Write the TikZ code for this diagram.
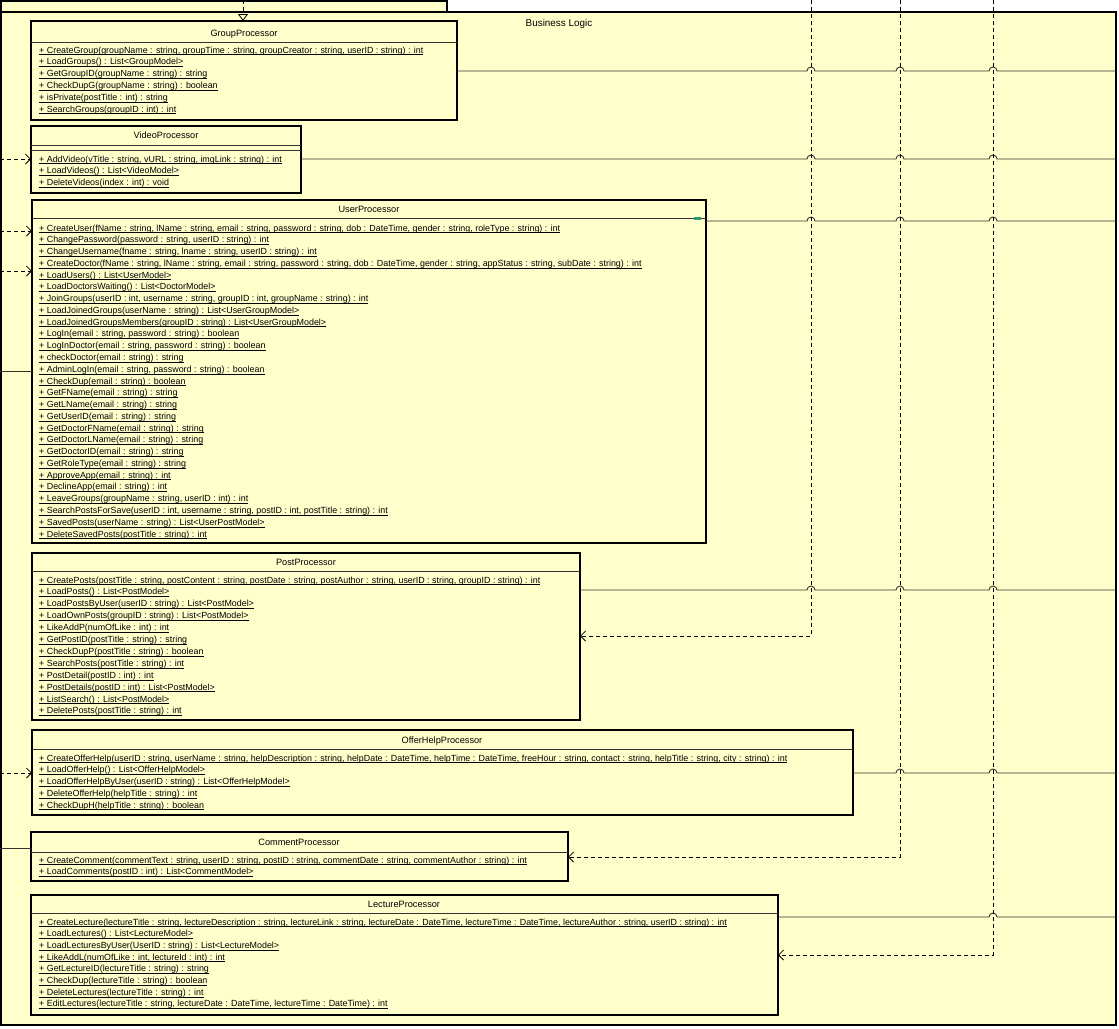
\documentclass[tikz,border=0pt]{standalone}
\usepackage{fontspec}
\setmainfont{Liberation Sans}
\usetikzlibrary{arrows.meta}
\definecolor{pkgfill}{HTML}{FFFFCC}
\definecolor{lnc}{HTML}{333333}
\definecolor{markc}{HTML}{2E9A6A}
\newcommand\myul[1]{\setbox0\hbox{#1}\rlap{\rule[-2pt]{\wd0}{0.7pt}}\box0}
\tikzset{
  pkg/.style={draw=black, line width=1.6pt, fill=pkgfill},
  cls/.style={draw=black, line width=2pt, fill=pkgfill, anchor=north west, inner sep=0pt, outer sep=0pt},
  ttl/.style={font=\fontsize{9.2}{10}\selectfont, inner sep=0pt, anchor=base},
  meth/.style={font=\fontsize{8.9}{10}\selectfont, inner sep=0pt, anchor=base west},
  sepline/.style={draw=lnc, line width=0.8pt},
  assoc/.style={draw=lnc, line width=0.9pt},
  dep/.style={draw=black, line width=0.8pt, dash pattern=on 4pt off 3pt, -{Straight Barb[length=5pt,width=10pt]}},
  realz/.style={draw=black, line width=0.8pt, dash pattern=on 4pt off 3pt, -{Triangle[open,length=7pt,width=10pt]}}
}
\begin{document}
\begin{tikzpicture}[x=1pt,y=1pt]
\useasboundingbox (0,0) rectangle (1119,-1028);
% package
\draw[pkg] (1,-1) rectangle (447,-12);
\draw[pkg] (1,-12) rectangle (1116,-1025);
\node[ttl, font=\fontsize{9.9}{11}\selectfont] (pkglabel) at (559,-26) {Business Logic};

% coordinates
\coordinate (tR) at (243,0);
\coordinate (tA) at (811,0);
\coordinate (tB) at (900,0);
\coordinate (tC) at (993,0);
\coordinate (eGrp) at (1116,-71);
\coordinate (eVid) at (1116,-159);
\coordinate (eUsr) at (1116,-221);
\coordinate (ePst) at (1116,-590);
\coordinate (eOfh) at (1116,-773);
\coordinate (eLec) at (1116,-917);
\coordinate (lVid) at (0,-159);
\coordinate (lUsr1) at (0,-231);
\coordinate (lUsr2) at (0,-271);
\coordinate (lUsr3) at (0,-371);
\coordinate (lOfh) at (0,-773);
\coordinate (lCmt) at (0,-848);
\coordinate (kA) at (811,-636);
\coordinate (kB) at (900,-857);
\coordinate (kC) at (993,-955);

% class boxes
\node[cls, minimum width=426pt, minimum height=99pt] (grp) at (31,-21) {};
\node[cls, minimum width=270pt, minimum height=67pt] (vid) at (31,-126) {};
\node[cls, minimum width=674pt, minimum height=343pt] (usr) at (32,-200) {};
\node[cls, minimum width=548pt, minimum height=167pt] (pst) at (32,-553) {};
\node[cls, minimum width=821pt, minimum height=85pt] (ofh) at (32,-730) {};
\node[cls, minimum width=537pt, minimum height=49pt] (cmt) at (31,-832) {};
\node[cls, minimum width=747pt, minimum height=120pt] (lec) at (31,-895) {};

% separators
\draw[sepline] (31,-42) -- (457,-42);
\draw[sepline] (31,-145) -- (301,-145);
\draw[sepline] (31,-150) -- (301,-150);
\draw[sepline] (32,-218) -- (706,-218);
\draw[sepline] (32,-571) -- (580,-571);
\draw[sepline] (32,-749) -- (853,-749);
\draw[sepline] (31,-852) -- (568,-852);
\draw[sepline] (31,-913) -- (778,-913);
\fill[markc] (694,-216.5) rectangle (701,-219.5);

% right-side associations with jumps
\draw[assoc] (grp.east |- eGrp) -- (807,-71) arc[start angle=180,end angle=0,radius=4pt]
  -- (896,-71) arc[start angle=180,end angle=0,radius=4pt]
  -- (989,-71) arc[start angle=180,end angle=0,radius=4pt] -- (eGrp);
\draw[assoc] (vid.east |- eVid) -- (807,-159) arc[start angle=180,end angle=0,radius=4pt]
  -- (896,-159) arc[start angle=180,end angle=0,radius=4pt]
  -- (989,-159) arc[start angle=180,end angle=0,radius=4pt] -- (eVid);
\draw[assoc] (usr.east |- eUsr) -- (807,-221) arc[start angle=180,end angle=0,radius=4pt]
  -- (896,-221) arc[start angle=180,end angle=0,radius=4pt]
  -- (989,-221) arc[start angle=180,end angle=0,radius=4pt] -- (eUsr);
\draw[assoc] (pst.east |- ePst) -- (807,-590) arc[start angle=180,end angle=0,radius=4pt]
  -- (896,-590) arc[start angle=180,end angle=0,radius=4pt]
  -- (989,-590) arc[start angle=180,end angle=0,radius=4pt] -- (ePst);
\draw[assoc] (ofh.east |- eOfh) -- (896,-773) arc[start angle=180,end angle=0,radius=4pt]
  -- (989,-773) arc[start angle=180,end angle=0,radius=4pt] -- (eOfh);
\draw[assoc] (lec.east |- eLec) -- (989,-917) arc[start angle=180,end angle=0,radius=4pt] -- (eLec);

% left-side connectors
\draw[dep] (lVid) -- (vid.west |- lVid);
\draw[dep] (lUsr1) -- (usr.west |- lUsr1);
\draw[dep] (lUsr2) -- (usr.west |- lUsr2);
\draw[assoc] (lUsr3) -- (usr.west |- lUsr3);
\draw[dep] (lOfh) -- (ofh.west |- lOfh);
\draw[assoc] (lCmt) -- (cmt.west |- lCmt);

% top realization and vertical dependencies
\draw[realz] (tR) -- (grp.north -| tR);
\draw[dep] (tA) -- (kA) -- (pst.east |- kA);
\draw[dep] (tB) -- (kB) -- (cmt.east |- kB);
\draw[dep] (tC) -- (kC) -- (lec.east |- kC);

% titles
\node[ttl] (grp-t) at (244,-36) {GroupProcessor};
\node[ttl] (vid-t) at (166,-138) {VideoProcessor};
\node[ttl] (usr-t) at (369,-212) {UserProcessor};
\node[ttl] (pst-t) at (306,-565) {PostProcessor};
\node[ttl] (ofh-t) at (442,-743) {OfferHelpProcessor};
\node[ttl] (cmt-t) at (299,-845) {CommentProcessor};
\node[ttl] (lec-t) at (404,-907) {LectureProcessor};

% methods
\foreach \t [count=\i from 0] in {
{+ CreateGroup(groupName : string, groupTime : string, groupCreator : string, userID : string) : int},
{+ LoadGroups() : List<GroupModel>},
{+ GetGroupID(groupName : string) : string},
{+ CheckDupG(groupName : string) : boolean},
{+ isPrivate(postTitle : int) : string},
{+ SearchGroups(groupID : int) : int}}
  \node[meth] (grp-m\i) at (39,{-(53+11.8*\i)}) {\myul{\t}};

\foreach \t [count=\i from 0] in {
{+ AddVideo(vTitle : string, vURL : string, imgLink : string) : int},
{+ LoadVideos() : List<VideoModel>},
{+ DeleteVideos(index : int) : void}}
  \node[meth] (vid-m\i) at (39,{-(162+11.8*\i)}) {\myul{\t}};

\foreach \t [count=\i from 0] in {
{+ CreateUser(fName : string, lName : string, email : string, password : string, dob : DateTime, gender : string, roleType : string) : int},
{+ ChangePassword(password : string, userID : string) : int},
{+ ChangeUsername(fname : string, lname : string, userID : string) : int},
{+ CreateDoctor(fName : string, lName : string, email : string, password : string, dob : DateTime, gender : string, appStatus : string, subDate : string) : int},
{+ LoadUsers() : List<UserModel>},
{+ LoadDoctorsWaiting() : List<DoctorModel>},
{+ JoinGroups(userID : int, username : string, groupID : int, groupName : string) : int},
{+ LoadJoinedGroups(userName : string) : List<UserGroupModel>},
{+ LoadJoinedGroupsMembers(groupID : string) : List<UserGroupModel>},
{+ LogIn(email : string, password : string) : boolean},
{+ LogInDoctor(email : string, password : string) : boolean},
{+ checkDoctor(email : string) : string},
{+ AdminLogIn(email : string, password : string) : boolean},
{+ CheckDup(email : string) : boolean},
{+ GetFName(email : string) : string},
{+ GetLName(email : string) : string},
{+ GetUserID(email : string) : string},
{+ GetDoctorFName(email : string) : string},
{+ GetDoctorLName(email : string) : string},
{+ GetDoctorID(email : string) : string},
{+ GetRoleType(email : string) : string},
{+ ApproveApp(email : string) : int},
{+ DeclineApp(email : string) : int},
{+ LeaveGroups(groupName : string, userID : int) : int},
{+ SearchPostsForSave(userID : int, username : string, postID : int, postTitle : string) : int},
{+ SavedPosts(userName : string) : List<UserPostModel>},
{+ DeleteSavedPosts(postTitle : string) : int}}
  \node[meth] (usr-m\i) at (39,{-(231+11.77*\i)}) {\myul{\t}};

\foreach \t [count=\i from 0] in {
{+ CreatePosts(postTitle : string, postContent : string, postDate : string, postAuthor : string, userID : string, groupID : string) : int},
{+ LoadPosts() : List<PostModel>},
{+ LoadPostsByUser(userID : string) : List<PostModel>},
{+ LoadOwnPosts(groupID : string) : List<PostModel>},
{+ LikeAddP(numOfLike : int) : int},
{+ GetPostID(postTitle : string) : string},
{+ CheckDupP(postTitle : string) : boolean},
{+ SearchPosts(postTitle : string) : int},
{+ PostDetail(postID : int) : int},
{+ PostDetails(postID : int) : List<PostModel>},
{+ ListSearch() : List<PostModel>},
{+ DeletePosts(postTitle : string) : int}}
  \node[meth] (pst-m\i) at (39,{-(583+11.9*\i)}) {\myul{\t}};

\foreach \t [count=\i from 0] in {
{+ CreateOfferHelp(userID : string, userName : string, helpDescription : string, helpDate : DateTime, helpTime : DateTime, freeHour : string, contact : string, helpTitle : string, city : string) : int},
{+ LoadOfferHelp() : List<OfferHelpModel>},
{+ LoadOfferHelpByUser(userID : string) : List<OfferHelpModel>},
{+ DeleteOfferHelp(helpTitle : string) : int},
{+ CheckDupH(helpTitle : string) : boolean}}
  \node[meth] (ofh-m\i) at (39,{-(761+11.75*\i)}) {\myul{\t}};

\foreach \t [count=\i from 0] in {
{+ CreateComment(commentText : string, userID : string, postID : string, commentDate : string, commentAuthor : string) : int},
{+ LoadComments(postID : int) : List<CommentModel>}}
  \node[meth] (cmt-m\i) at (39,{-(863+11.8*\i)}) {\myul{\t}};

\foreach \t [count=\i from 0] in {
{+ CreateLecture(lectureTitle : string, lectureDescription : string, lectureLink : string, lectureDate : DateTime, lectureTime : DateTime, lectureAuthor : string, userID : string) : int},
{+ LoadLectures() : List<LectureModel>},
{+ LoadLecturesByUser(UserID : string) : List<LectureModel>},
{+ LikeAddL(numOfLike : int, lectureId : int) : int},
{+ GetLectureID(lectureTitle : string) : string},
{+ CheckDup(lectureTitle : string) : boolean},
{+ DeleteLectures(lectureTitle : string) : int},
{+ EditLectures(lectureTitle : string, lectureDate : DateTime, lectureTime : DateTime) : int}}
  \node[meth] (lec-m\i) at (39,{-(925+11.7*\i)}) {\myul{\t}};
\end{tikzpicture}
\end{document}
